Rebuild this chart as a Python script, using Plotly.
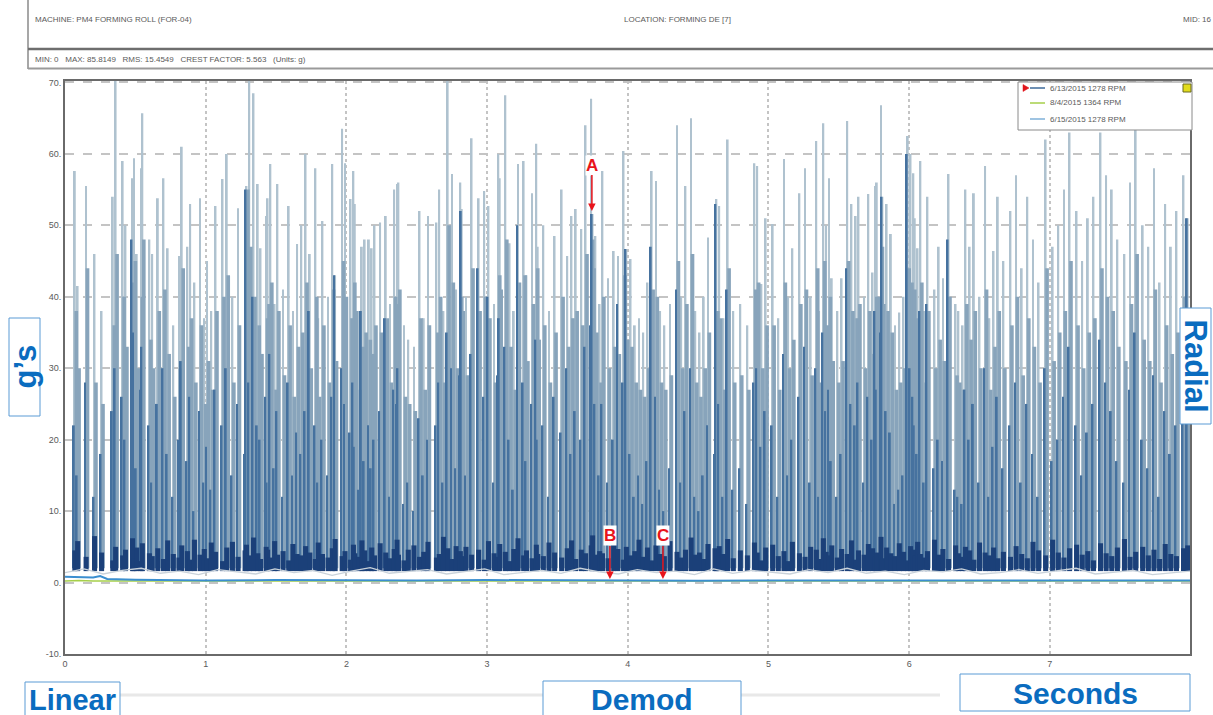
import numpy as np
import plotly.graph_objects as go

# ---------------- data ----------------
# impact times (s) and spike heights (g) for the 6/13/2015 waveform, in 4 segments
time_s1 = [0.07,0.09,0.15,0.21,0.26,0.34,0.36,0.41,0.43,0.48,0.49,0.51,0.54,0.55,0.60,0.62,0.66,0.70,0.73,0.77,
           0.81,0.83,0.87,0.89,0.92,0.96,0.99,1.01,1.04,1.07,1.12,1.15,1.19,1.23,1.28,1.29,1.31,1.34,1.37,1.39,
           1.43,1.44,1.46,1.49,1.51,1.55,1.59,1.62,1.65]
peak_s1 = [57.6,41.5,55.5,46.0,38.0,54.0,72.0,59.0,50.0,56.6,59.4,46.0,58.0,65.7,48.0,46.0,53.8,56.6,46.8,36.0,
           45.7,61.0,47.0,53.0,42.0,53.8,37.0,45.0,38.0,52.7,56.5,60.0,40.0,52.4,45.7,55.5,72.0,68.5,55.8,46.8,
           51.3,53.8,58.6,39.0,55.8,41.0,52.7,38.0,47.4]
mid_s1 = [38,30,44,28,25,36,46,40,33,42,45,30,40,48,34,30,38,41,32,26,
          30,44,33,37,28,36,25,31,27,38,40,43,28,36,31,55,47,40,36,32,
          37,39,42,27,38,29,36,26,33]
dark_s1 = [22,15,28,12,18,24,30,26,20,48,35,16,27,33,22,14,25,30,18,12,
           20,31,17,26,10,24,14,19,13,27,22,30,15,25,18,55,28,40,22,20,
           26,14,32,16,24,12,28,15,21]
noise_s1 = [4.5,5.8,3.6,6.5,4.2,3.1,5.0,3.8,4.6,6.2,3.4,4.9,3.0,5.5,4.1,3.7,4.8,3.3,5.9,4.0,
            3.5,5.2,4.4,3.2,6.0,3.9,4.7,3.4,5.6,4.3,3.0,4.9,5.7,3.6,4.5,5.3,3.8,6.3,4.1,3.3,
            5.0,4.6,3.5,5.8,3.9,4.4,3.1,5.4,4.0]

time_s2 = [1.68,1.71,1.74,1.78,1.80,1.83,1.87,1.90,1.92,1.97,1.99,2.03,2.05,2.06,2.09,2.11,2.13,2.16,2.18,2.20,
           2.24,2.28,2.31,2.34,2.36,2.37,2.41,2.44,2.48,2.52,2.55,2.58,2.64,2.66,2.69,2.72,2.75,2.78,2.81,2.82,
           2.85,2.89,2.94,2.98,3.01,3.05,3.08,3.09,3.13,3.16,3.19,3.22,3.26,3.28,3.32,3.35,3.36,3.40,3.44,3.48,
           3.53,3.57,3.60,3.63,3.67,3.70,3.74,3.75,3.77,3.80]
peak_s2 = [50.0,60.0,46.0,58.0,37.0,50.6,40.0,58.6,43.0,63.5,58.7,53.7,57.6,53.0,38.0,47.0,48.0,48.0,46.8,50.0,
           50.4,51.3,39.0,55.0,55.8,56.0,36.0,34.0,33.0,52.0,37.0,51.3,50.4,55.0,38.0,72.0,57.2,41.0,56.0,52.3,
           40.0,62.2,53.8,54.8,52.7,39.0,60.0,56.6,68.2,47.5,38.0,58.6,59.0,43.0,54.5,61.4,47.0,50.0,38.0,48.5,
           55.0,45.7,51.3,52.3,49.5,64.0,67.7,51.6,48.5,39.0]
mid_s2 = [35,42,30,40,26,36,28,41,31,45,40,37,42,38,27,33,35,34,32,36,
          35,37,28,40,39,41,26,25,24,37,27,36,35,40,28,50,42,30,40,38,
          29,44,38,40,37,28,43,41,48,33,27,42,43,31,39,44,34,36,28,35,
          40,33,37,38,36,46,48,44,35,28]
dark_s2 = [18,24,38,22,14,20,15,26,43,30,25,21,28,19,13,38,17,22,16,20,
           24,37,12,27,25,30,11,14,10,23,15,20,22,28,14,35,30,16,29,52,
           15,32,44,26,40,14,29,37,33,20,13,50,28,17,25,34,20,22,12,26,
           21,30,18,24,20,33,36,51.6,25,15]
noise_s2 = [3.8,5.1,4.2,3.3,5.6,4.0,3.5,4.8,6.1,3.7,4.4,3.2,5.3,4.1,3.6,5.9,4.5,3.0,4.9,3.8,
            5.5,4.2,3.4,4.7,6.0,3.9,3.1,4.6,5.2,3.6,4.3,5.7,3.5,4.0,6.4,4.8,3.3,5.1,4.4,3.7,
            5.0,3.9,4.6,3.2,5.8,4.1,3.6,5.4,4.3,3.0,4.7,6.2,3.8,4.5,3.4,5.3,4.0,3.7,5.6,4.2,
            3.5,4.8,5.9,3.3,4.6,4.1,5.2,6.6,3.9,4.4]

time_s3 = [3.82,3.86,3.90,3.93,3.97,3.99,4.02,4.05,4.08,4.11,4.14,4.17,4.20,4.23,4.26,4.30,4.35,4.38,4.41,4.45,
           4.48,4.51,4.54,4.57,4.62,4.63,4.65,4.68,4.71,4.75,4.80,4.85,4.90,4.92,4.95,4.98,5.03,5.07,5.11,5.14,
           5.17,5.22,5.26,5.30,5.34,5.36,5.39,5.41,5.43,5.45,5.49,5.52,5.56,5.59,5.62,5.64,5.68,5.71,5.74,5.76,
           5.77,5.80,5.81,5.84,5.87,5.90,5.93,5.96,5.99,6.01,6.03,6.04,6.06,6.08,6.11,6.13,6.18,6.21,6.24,6.28,
           6.33,6.35,6.38,6.40,6.43,6.46,6.50,6.54,6.57,6.60,6.63]
peak_s3 = [57.6,42.6,46.4,45.7,60.4,46.7,45.3,36.0,37.0,35.0,42.0,57.6,56.2,38.0,36.0,39.0,64.0,40.0,55.5,65.0,
           38.0,35.0,40.0,48.3,42.2,53.7,52.7,37.0,62.0,38.0,39.0,36.0,58.7,58.3,41.8,51.0,50.2,37.0,59.3,40.0,
           46.8,54.5,58.0,40.0,61.8,38.0,64.3,50.0,56.6,42.6,38.0,42.6,64.6,53.0,51.3,54.0,40.0,54.4,43.4,55.5,
           56.0,66.8,54.0,53.0,48.8,36.0,37.8,40.0,62.5,60.0,57.3,51.0,46.8,59.0,38.0,54.0,41.0,47.0,42.6,57.2,
           39.0,38.0,36.0,55.0,47.0,54.5,40.0,58.3,37.0,46.4,54.0]
mid_s3 = [40,30,33,32,43,34,33,28,27,26,30,41,40,28,27,29,45,30,39,46,
          28,26,30,35,31,38,37,27,44,28,29,27,41,42,30,36,36,27,42,30,
          34,39,41,29,44,28,45,36,40,31,28,31,45,38,37,39,30,38,32,40,
          40,47,39,38,35,27,28,30,44,42,41,37,34,42,28,38,30,34,31,40,
          29,28,27,39,34,38,30,41,27,33,38]
dark_s3 = [25,14,20,39,28,46.7,18,12,15,11,17,47,26,13,10,16,41,14,24,30,
           12,10,15,22,18,53,25,12,41,13,16,11,28,30,19,24,22,12,32,15,
           20,26,33,14,30,12,35,24,27,17,12,18,44,25,22,28,14,26,20,38,
           27,35,54,24,21,11,13,15,60,30,26,22,18,38,14,39,16,20,17,48,
           13,12,11,27,20,25,14,30,12,19,26]
noise_s3 = [4.1,3.4,5.5,4.7,3.2,5.0,3.8,4.4,6.0,3.6,4.9,3.1,5.2,4.0,3.7,5.8,4.3,3.5,4.6,6.3,
            3.9,4.2,3.3,5.4,4.8,3.6,5.1,4.0,6.1,3.4,4.5,3.8,5.6,4.2,3.1,4.9,5.3,3.7,4.4,3.0,
            5.7,4.1,3.6,5.0,4.6,3.3,6.2,4.3,3.8,5.2,3.5,4.7,4.0,5.9,3.2,4.5,3.9,5.4,4.8,3.6,
            4.2,6.4,3.4,4.9,4.1,3.7,5.5,4.3,3.1,5.1,4.6,3.8,5.7,4.0,3.5,4.4,6.0,3.9,4.7,3.3,
            5.2,4.1,3.6,5.0,4.5,3.2,5.6,4.2,3.8,4.9,3.4]

time_s4 = [6.67,6.72,6.76,6.80,6.84,6.88,6.92,6.97,7.02,7.06,7.10,7.14,7.19,7.23,7.27,7.31,7.36,7.40,7.44,7.48,
           7.53,7.57,7.61,7.66,7.70,7.74,7.78,7.82,7.86,7.90,7.95,7.98]
peak_s4 = [45.0,52.0,57.0,44.0,54.0,48.0,42.0,62.0,47.0,50.0,55.0,63.0,52.0,45.0,51.0,54.0,63.0,57.0,55.0,48.0,
           46.0,56.0,64.0,50.0,47.0,58.0,42.0,53.0,47.0,52.0,57.0,51.0]
mid_s4 = [30,36,40,29,37,33,28,44,31,35,38,45,36,30,35,37,44,40,38,33,
          31,39,46,34,31,41,28,36,32,35,40,36]
dark_s4 = [16,22,28,14,25,18,12,30,17,20,26,33,22,15,21,25,34,28,24,17,
           14,27,35,20,16,29,12,24,18,22,30,51]
noise_s4 = [4.3,3.6,5.1,4.0,3.4,5.7,4.5,3.8,6.0,4.2,3.5,4.8,5.3,3.9,4.4,3.1,5.5,4.1,3.7,4.9,
            6.1,3.6,4.3,5.0,3.8,4.6,3.3,5.4,4.0,3.7,4.8,5.2]

# faint grey noise under the baseline band
ghost_vals = [1.4,1.9,1.2,1.7,2.0,1.3,1.6,1.1,1.8,1.5,1.2,1.9,1.4,1.7,1.0,1.6,2.1,1.3,1.5,1.8,
              1.2,1.6,1.9,1.1,1.4,1.7,1.3,2.0,1.5,1.2,1.8,1.4,1.6,1.1,1.9,1.3,1.7,1.5,1.2,1.8,
              1.4,2.0,1.3,1.6,1.1,1.7,1.5,1.9,1.2,1.4,1.8,1.3,1.6,2.0,1.2,1.5,1.7,1.1,1.4,1.6]

# 8/4/2015 and 6/15/2015 waveforms (nearly flat)
ref_t = [0, 0.1, 0.2, 0.25, 0.3, 0.5, 1.0, 1.5, 2.0, 2.5, 3.0, 3.5, 4.0, 4.5, 5.0, 5.5, 6.0, 6.5, 7.0, 7.5, 8.0]
blue_v = [0.8, 0.7, 0.7, 0.9, 0.5, 0.4, 0.3, 0.35, 0.3, 0.3, 0.35, 0.3, 0.3, 0.25, 0.3, 0.3, 0.35, 0.3, 0.3, 0.3, 0.3]
green_v = [0.2, 0.3, 0.2, 0.25, 0.2, 0.2, 0.15, 0.2, 0.2, 0.15, 0.2, 0.2, 0.2, 0.15, 0.2, 0.2, 0.2, 0.15, 0.2, 0.2, 0.2]

y_ticks = [-10, 0, 10, 20, 30, 40, 50, 60, 70]
x_ticks = [0, 1, 2, 3, 4, 5, 6, 7]
legend_labels = ["6/13/2015 1278 RPM", "8/4/2015 1364 RPM", "6/15/2015 1278 RPM"]

# ---------------- assemble ----------------
T, P, M, D, N = [], [], [], [], []
for ts, ps, ms, ds, ns in [(time_s1, peak_s1, mid_s1, dark_s1, noise_s1),
                           (time_s2, peak_s2, mid_s2, dark_s2, noise_s2),
                           (time_s3, peak_s3, mid_s3, dark_s3, noise_s3),
                           (time_s4, peak_s4, mid_s4, dark_s4, noise_s4)]:
    n = min(len(ts), len(ps), len(ms), len(ds), len(ns))
    T += ts[:n]; P += ps[:n]; M += ms[:n]; D += ds[:n]; N += ns[:n]

BASE = 2.0
LIGHT = "#afc2cf"
MID = "#88a4bb"
DARK = "#46729f"
NAVY = "#1b4079"

fig = go.Figure()
fig.add_trace(go.Scatter(x=np.linspace(0, 8, len(ghost_vals)), y=ghost_vals, mode="lines",
                         line=dict(color="#c9d2da", width=1.3), hoverinfo="skip"))
fig.add_trace(go.Bar(x=T, y=[p - BASE for p in P], base=BASE, width=0.013,
                     marker=dict(color=LIGHT, line_width=0), hoverinfo="skip"))
fig.add_trace(go.Bar(x=[t + 0.01 for t in T], y=[m - BASE for m in M], base=BASE, width=0.026,
                     marker=dict(color=MID, line_width=0), hoverinfo="skip"))
fig.add_trace(go.Bar(x=[t - 0.007 for t in T], y=[d - BASE for d in D], base=BASE, width=0.013,
                     marker=dict(color=DARK, line_width=0), hoverinfo="skip"))
fig.add_trace(go.Bar(x=T, y=[v - 1.6 for v in N], base=1.6, width=0.036,
                     marker=dict(color=NAVY, line_width=0), hoverinfo="skip"))
fig.add_trace(go.Scatter(x=ref_t, y=green_v, mode="lines", line=dict(color="#a6cf4a", width=1.5),
                         hoverinfo="skip"))
fig.add_trace(go.Scatter(x=ref_t, y=blue_v, mode="lines", line=dict(color="#3b8fd0", width=2),
                         hoverinfo="skip"))

L, R, TOP, BOT = 65, 1190, 81, 654


def PX(px):
    return (px - L) / (R - L)


def PY(py):
    return (BOT - py) / (BOT - TOP)


shapes = []
annots = []
GRAYTXT = "#5a5a5a"
FONT = "Liberation Sans, Arial, sans-serif"
NARROW = "Liberation Sans Narrow, Arial Narrow, Liberation Sans, Arial, sans-serif"

# header lines
shapes.append(dict(type="line", xref="paper", yref="paper", x0=PX(28), x1=PX(28), y0=PY(0), y1=PY(69),
                   line=dict(color="#8a8a8a", width=1.5)))
shapes.append(dict(type="line", xref="paper", yref="paper", x0=PX(28), x1=PX(1213), y0=PY(49), y1=PY(49),
                   line=dict(color="#6e6e6e", width=2.5)))
shapes.append(dict(type="line", xref="paper", yref="paper", x0=PX(28), x1=PX(1213), y0=PY(68.5), y1=PY(68.5),
                   line=dict(color="#9a9a9a", width=2)))
annots += [
    dict(text="MACHINE: PM4 FORMING ROLL (FOR-04)", x=PX(33), y=PY(20)),
    dict(text="LOCATION: FORMING DE [7]", x=PX(622), y=PY(20)),
    dict(text="MID: 16", x=PX(1181), y=PY(20)),
    dict(text="MIN: 0   MAX: 85.8149   RMS: 15.4549   CREST FACTOR: 5.563   (Units: g)", x=PX(33), y=PY(60)),
]
for a in annots:
    a.update(xref="paper", yref="paper", xanchor="left", yanchor="middle", showarrow=False,
             font=dict(family=FONT, size=8, color=GRAYTXT))

# legend box
shapes.append(dict(type="rect", xref="paper", yref="paper", x0=PX(1018), x1=PX(1192), y0=PY(82), y1=PY(130),
                   line=dict(color="#8a8a8a", width=1), fillcolor="white"))
shapes.append(dict(type="rect", xref="paper", yref="paper", x0=PX(1183), x1=PX(1191), y0=PY(84), y1=PY(92),
                   line=dict(color="#6b6b20", width=1), fillcolor="#e2dc1c"))
leg_colors = ["#3c6a9a", "#a6cf4a", "#7fb0d9"]
leg_y = [88, 103, 119]
for lab, col, yy in zip(legend_labels, leg_colors, leg_y):
    shapes.append(dict(type="line", xref="paper", yref="paper", x0=PX(1030), x1=PX(1045), y0=PY(yy), y1=PY(yy),
                       line=dict(color=col, width=1.5)))
    annots.append(dict(text=lab, x=PX(1048), y=PY(yy), xref="paper", yref="paper", xanchor="left",
                       yanchor="middle", showarrow=False, font=dict(family=FONT, size=8, color=GRAYTXT)))
shapes.append(dict(type="path", xref="paper", yref="paper",
                   path="M %f,%f L %f,%f L %f,%f Z" % (PX(1023), PY(84.5), PX(1023), PY(91.5), PX(1029), PY(88)),
                   line=dict(color="#e0141b", width=0.5), fillcolor="#e0141b"))

# bottom gray strip
for x0, x1 in [(120, 543), (741, 940)]:
    shapes.append(dict(type="line", xref="paper", yref="paper", x0=PX(x0), x1=PX(x1), y0=PY(695), y1=PY(695),
                       line=dict(color="#e8e8e8", width=3)))

# label boxes
BLUE = "#0a6cbf"
boxes = [
    ("Linear", 25, 120, 682, 718, 0, 29),
    ("Demod", 543, 741, 681, 718, 0, 30),
    ("Seconds", 960, 1190, 674, 711, 0, 30),
    ("g\u2019s", 9, 40, 318, 416, -90, 31),
    ("Radial", 1180, 1211, 308, 424, 90, 31),
]
for txt, x0, x1, y0, y1, ang, fs in boxes:
    shapes.append(dict(type="rect", xref="paper", yref="paper", x0=PX(x0), x1=PX(x1), y0=PY(y0), y1=PY(y1),
                       line=dict(color="#5b9bd5", width=1), fillcolor="white"))
    annots.append(dict(text="<b>%s</b>" % txt, x=PX((x0 + x1) / 2), y=PY((y0 + min(y1, 715)) / 2 + (1 if ang == 0 else 0)),
                       xref="paper", yref="paper", xanchor="center", yanchor="middle", showarrow=False,
                       textangle=ang, font=dict(family=NARROW, size=fs, color=BLUE)))

# red letter markers
for letter, t_head, v_head, ay in [("A", 3.745, 52.0, -46), ("B", 3.873, 0.5, -43), ("C", 4.250, 0.5, -43)]:
    annots.append(dict(text="<b>%s</b>" % letter, x=t_head, y=v_head, xref="x", yref="y", showarrow=True,
                       ax=0, ay=ay, arrowhead=2, arrowsize=1, arrowwidth=1.5, arrowcolor="#e8141b",
                       bgcolor="white", borderpad=0,
                       font=dict(family=NARROW, size=17, color="#e8141b")))

fig.update_layout(
    width=1213, height=715, autosize=False,
    margin=dict(l=L, r=1213 - R, t=TOP, b=715 - BOT),
    paper_bgcolor="white", plot_bgcolor="white",
    barmode="overlay", showlegend=False,
    shapes=shapes, annotations=annots,
    xaxis=dict(range=[0, 7.996], tickvals=x_ticks, ticktext=[str(v) for v in x_ticks],
               showgrid=True, gridcolor="#c4c4c4", griddash="dot", gridwidth=1.5,
               showline=True, linecolor="#6a6a6a", linewidth=2, mirror=True, zeroline=False,
               ticks="", tickfont=dict(family=FONT, size=9, color=GRAYTXT), fixedrange=True),
    yaxis=dict(range=[-10, 70.2], tickvals=y_ticks, ticktext=["%d." % v for v in y_ticks],
               showgrid=True, gridcolor="#c4c4c4", griddash="dash", gridwidth=1.5,
               showline=True, linecolor="#6a6a6a", linewidth=2, mirror=True, zeroline=False,
               ticks="", tickfont=dict(family=FONT, size=9, color=GRAYTXT), fixedrange=True),
)

fig.write_html("out.html", config={"displayModeBar": False})
